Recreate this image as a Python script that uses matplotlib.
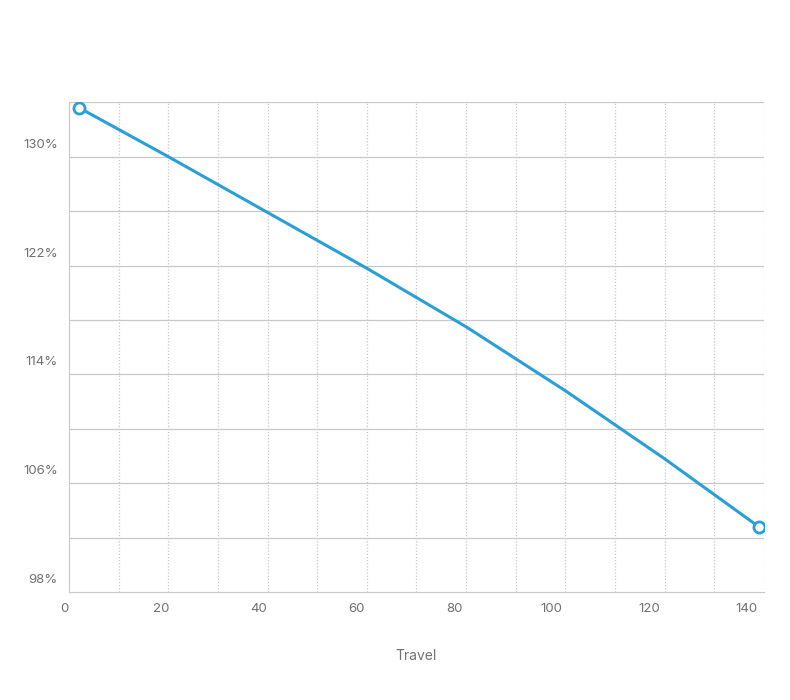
import matplotlib
matplotlib.use("Agg")
import matplotlib.pyplot as plt
from matplotlib.transforms import ScaledTranslation

travel = [2, 20, 40, 60, 80, 100, 120, 139]
values = [133.6, 130.0, 125.9, 121.8, 117.5, 112.8, 107.8, 102.8]
x_ticks = [0, 20, 40, 60, 80, 100, 120, 140]
y_ticks = [98, 106, 114, 122, 130]

plt.rcParams['font.family'] = ['Inter', 'DejaVu Sans']
fig = plt.figure(figsize=(7.9, 7.0), dpi=100)
ax = fig.add_axes([0.0873, 0.154, 0.8797, 0.7])
ax.set_xlim(0, 140)
ax.set_ylim(98, 134)
for v in range(10, 141, 10):
    ax.axvline(v, color='#c8c8c8', lw=0.9, ls=(0, (1, 1.5)), zorder=1)
for v in range(102, 135, 4):
    ax.axhline(v, color='#c8c8c8', lw=0.9, zorder=1)
ax.plot(travel, values, color='#2a9fd6', lw=2.2, zorder=3)
ax.plot([travel[0], travel[-1]], [values[0], values[-1]], 'o', ms=8,
        mfc='white', mec='#2a9fd6', mew=2, zorder=4)
ax.set_xticks(x_ticks)
ax.set_xticklabels([str(t) for t in x_ticks])
ax.set_yticks(y_ticks)
ax.set_yticklabels([f"{t}%" for t in y_ticks])
ax.tick_params(length=0, labelsize=9.5, colors='#707070', pad=8)
fig.canvas.draw()
for t, lab in zip(x_ticks, ax.get_xticklabels()):
    dx = -5 - 12 * t / 140
    lab.set_transform(lab.get_transform() + ScaledTranslation(dx / 100, 0, fig.dpi_scale_trans))
for lab in ax.get_yticklabels():
    lab.set_verticalalignment('bottom')
    lab.set_transform(lab.get_transform() + ScaledTranslation(0, 6 / 100, fig.dpi_scale_trans))
for s in ['top', 'right']:
    ax.spines[s].set_visible(False)
ax.spines['left'].set_color('#c8c8c8')
ax.spines['bottom'].set_color('#c8c8c8')
ax.set_xlabel('Travel', fontsize=10, color='#707070', labelpad=24)
fig.savefig('out.png', dpi=100)
